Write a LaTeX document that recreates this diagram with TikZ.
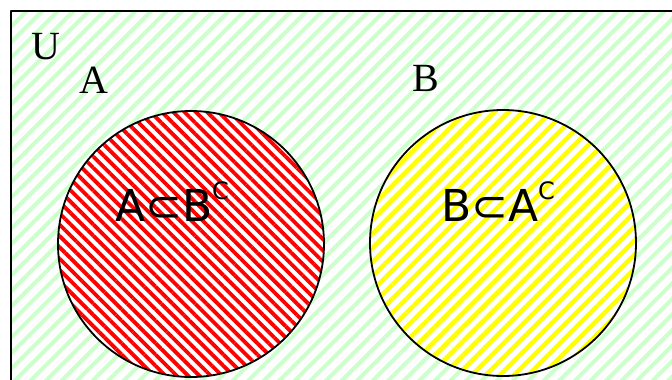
\documentclass[tikz,border=0pt]{standalone}
\usepackage{fontspec}
\setmainfont{Liberation Serif}
\newfontfamily\handfont{DejaVu Sans}
\usetikzlibrary{patterns.meta}
\tikzset{
	setU/.style={pattern={Lines[angle=45,distance=11pt,line width=4pt]},pattern color=green!20},
	setA/.style={circle,draw,line width=1.8pt,minimum size=266pt,inner sep=0pt,
		preaction={fill=white},pattern={Lines[angle=-45,distance=8pt,line width=3.8pt]},pattern color=red},
	setB/.style={circle,draw,line width=1.8pt,minimum size=266pt,inner sep=0pt,
		preaction={fill=white},pattern={Lines[angle=45,distance=10pt,line width=4.5pt]},pattern color=yellow},
	setname/.style={font=\fontsize{40}{40}\selectfont},
	rel/.style={font=\handfont\fontsize{44}{44}\selectfont}
}
\newcommand\supc{\raisebox{0.5em}{\fontsize{24}{24}\selectfont C}}
\begin{document}
\begin{tikzpicture}[x=1pt, y=-1pt, line join=round]
			\def\W{672}
			\def\H{380}
			\useasboundingbox (0,0) rectangle (\W,\H);
			\fill[white] (0,0) rectangle (\W,\H);
			\fill[setU] (11,11) rectangle (\W+10,\H+10);
			\draw[line width=2pt] (11,\H+10)--(11,11)--(\W+10,11);
			\node[setname] (u) at (46,47) {U};
			\node[setA] (A) at (191,244) {};
			\node[setB] (B) at (503,243) {};
			\node[setname] (a) at (94,80) {A};
			\node[setname] (b) at (426,78) {B};
			\node[rel] (ab) at (172,202) {A⊂B\supc};
			\node[rel] (ba) at (498,202) {B⊂A\supc};
		\end{tikzpicture}
\end{document}
